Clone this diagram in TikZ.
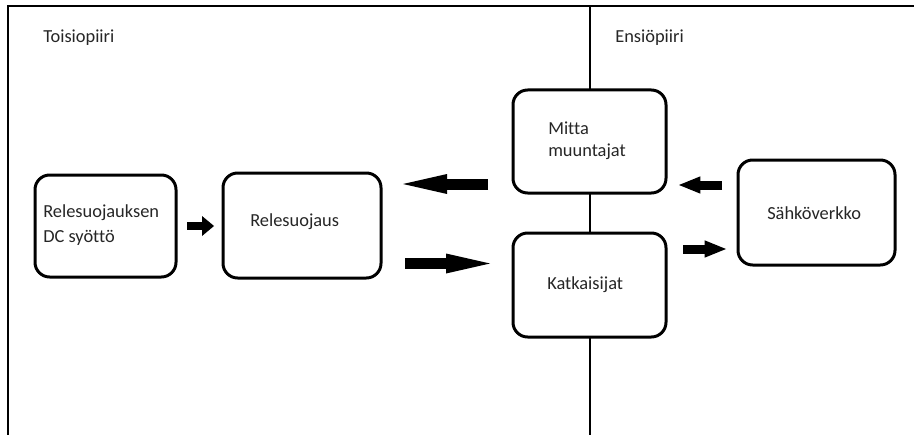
\documentclass[tikz,border=0pt]{standalone}
\usepackage{fontspec}
\setmainfont[Ligatures=NoCommon]{Carlito}
\usetikzlibrary{arrows.meta}
\begin{document}
\begin{tikzpicture}[x=0.75pt,y=-0.75pt,
  blockbox/.style={draw=black,fill=white,line width=2.25pt,rounded corners=11pt,
    minimum width=#1,inner sep=0pt},
  lbl/.style={anchor=west,inner sep=0pt,font=\fontsize{13.8}{17}\selectfont,text=black!85},
  framel/.style={line width=1.5pt,black},
  bigarrow/.style={line width=8.25pt,-{Triangle[length=33pt,width=15pt,line width=0pt]}},
  smallarrow/.style={line width=6.75pt,-{Triangle[length=16pt,width=13pt,line width=0pt]}},
  tinyarrow/.style={line width=6pt,-{Triangle[length=9pt,width=15pt,line width=0pt]}}]
\useasboundingbox (0,0) rectangle (914,435);
% frame
\coordinate (tl) at (8,6);
\coordinate (tr) at (914,6);
\coordinate (bl) at (8,435);
\coordinate (dt) at (590,6);
\coordinate (db) at (590,435);
\draw[framel] (bl) -- (tl) -- (tr);
\draw[framel] (dt) -- (db);
% labels
\node[lbl] (toisio) at (43,38) {Toisiopiiri};
\node[lbl] (ensio) at (615,38) {Ensiöpiiri};
% boxes
\node[blockbox=105.75pt,minimum height=76.5pt] (dc) at (105.5,226) {};
\node[blockbox=118.5pt,minimum height=78.75pt] (rele) at (302,225.5) {};
\node[blockbox=114.75pt,minimum height=77.25pt] (mitta) at (589.5,141.5) {};
\node[blockbox=114.75pt,minimum height=78pt] (katk) at (589.5,285) {};
\node[blockbox=117.75pt,minimum height=78.75pt] (verkko) at (816.5,212.5) {};
% texts
\node[lbl,align=left,font=\fontsize{13.8}{18.75}\selectfont] (dct) at (43,225.5) {Relesuojauksen\\DC syöttö};
\node[lbl] (relet) at (250,222) {Relesuojaus};
\node[lbl,align=left,font=\fontsize{13.8}{16.5}\selectfont] (mittat) at (548,141) {Mitta\\muuntajat};
\node[lbl] (katkt) at (547,285) {Katkaisijat};
\node[lbl] (verkkot) at (767,213) {Sähköverkko};
% arrows
\coordinate (a1s) at (187,226); \coordinate (a1e) at (214,226);
\coordinate (a2s) at (488,184); \coordinate (a2e) at (403,184);
\coordinate (a3s) at (405,263.5); \coordinate (a3e) at (490,263.5);
\coordinate (a4s) at (722,185); \coordinate (a4e) at (679,185);
\coordinate (a5s) at (683,249); \coordinate (a5e) at (726,249);
\draw[tinyarrow] (a1s) -- (a1e);
\draw[bigarrow] (a2s) -- (a2e);
\draw[bigarrow] (a3s) -- (a3e);
\draw[smallarrow] (a4s) -- (a4e);
\draw[smallarrow] (a5s) -- (a5e);
\end{tikzpicture}
\end{document}
